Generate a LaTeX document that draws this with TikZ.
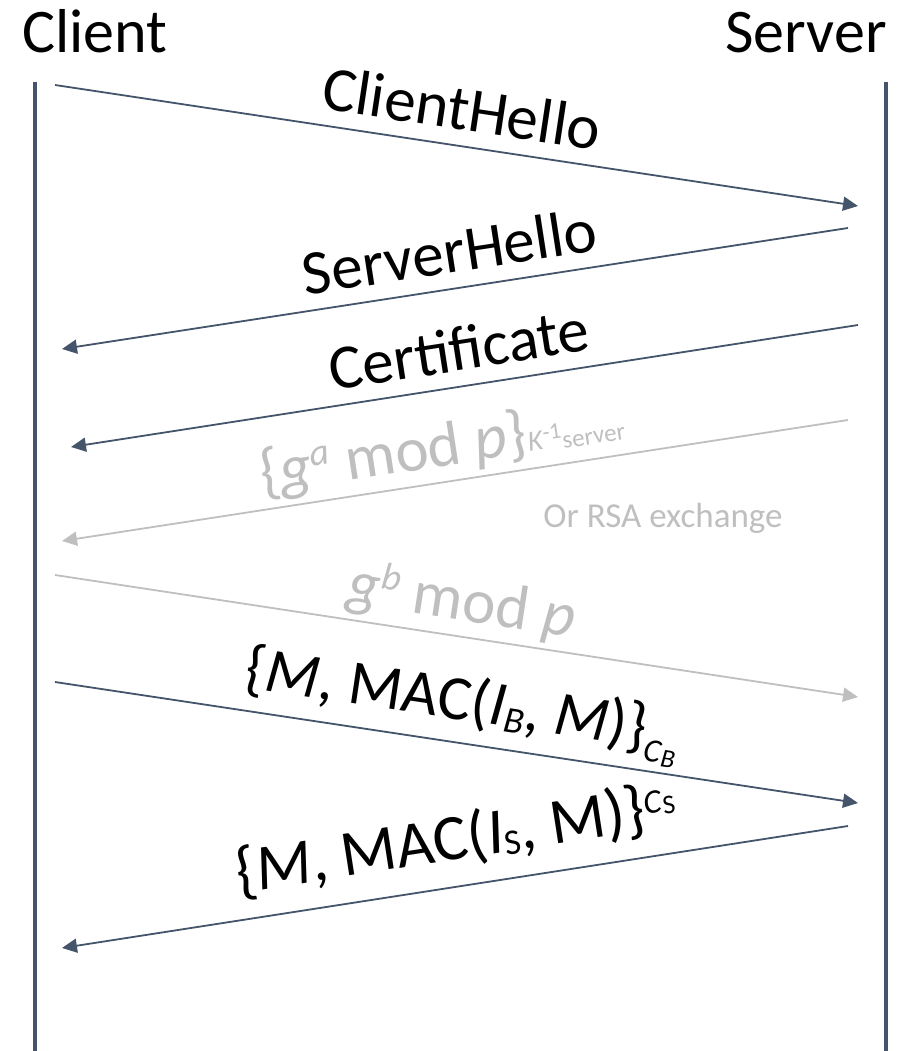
\documentclass[tikz,border=0pt]{standalone}
\usepackage{fontspec}
\setmainfont{Carlito}
\usetikzlibrary{arrows.meta}

\definecolor{lane}{HTML}{44546A}
\definecolor{faded}{HTML}{BFBFBF}

% font size in pt, and a raised piece of text at its own size
\newcommand*{\fsz}[1]{\fontsize{#1}{#1}\selectfont}
\newcommand*{\raisedtext}[3]{\raisebox{#1}{\fsz{#2}#3}}

\begin{document}
\begin{tikzpicture}
  [x=1pt,y=-1pt,every node/.style={inner sep=0pt}]
  \tikzset{lifeline/.style={draw=lane,line width=3.5pt},
           msg/.style={lane,line width=1.8pt,-{Triangle[length=15pt,width=14pt]}},
           faint/.style={msg,faded},
           lbl/.style={font=\fsz{63},text=black,sloped,anchor=base,yshift=16pt},
           title/.style={font=\fsz{62},anchor=base}}
  \useasboundingbox (0,0) rectangle (914,1051);

  \node[title] (client) at (95,53)  {Client};
  \node[title] (server) at (806,53) {Server};

  % lifelines
  \coordinate (ctop) at (35,82);   \coordinate (cbot) at (35,1051);
  \coordinate (stop) at (886,82);  \coordinate (sbot) at (886,1051);
  \draw[lifeline] (ctop) -- (cbot);
  \draw[lifeline] (stop) -- (sbot);

  % message end points
  \coordinate (c1) at (55,85);   \coordinate (s1) at (858,206);
  \coordinate (s2) at (848,228); \coordinate (c2) at (62,349);
  \coordinate (s3) at (858,325); \coordinate (c3) at (71,447);
  \coordinate (s4) at (848,420); \coordinate (c4) at (62,541);
  \coordinate (c5) at (55,575);  \coordinate (s5) at (858,697);
  \coordinate (c6) at (55,682);  \coordinate (s6) at (858,803);
  \coordinate (s7) at (848,826); \coordinate (c7) at (62,948);

  \draw[msg] (c1) -- node[lbl] (hello1) {ClientHello} (s1);
  \draw[msg] (s2) -- node[lbl] (hello2) {ServerHello} (c2);
  \draw[msg] (s3) -- node[lbl] (cert) {Certificate} (c3);
  \draw[faint] (s4) -- node[lbl,text=faded,pos=0.51] (ga)
    {\{\textit{g}\raisedtext{20pt}{38}{\textit{a}} mod \textit{p}\}%
     \raisedtext{1pt}{29}{\textit{K}\raisedtext{9pt}{23}{-1}\raisedtext{-2pt}{25}{server}}} (c4);
  \node[font=\fsz{35},text=faded,anchor=base] (rsa) at (663,527) {Or RSA exchange};
  \draw[faint] (c5) -- node[lbl,text=faded] (gb)
    {\textit{g}\raisedtext{20pt}{38}{\textit{b}} mod \textit{p}} (s5);
  \draw[msg] (c6) -- node[lbl,pos=0.5,yshift=7pt] (macb)
    {\{\textit{M}, MAC(\textit{I}\raisedtext{-5pt}{37}{\textit{B}}, \textit{M})\}%
     \raisedtext{-13pt}{33}{\textit{C}\raisedtext{-3pt}{26}{\textit{B}}}} (s6);
  \draw[msg] (s7) -- node[lbl,font=\fsz{65},pos=0.49,yshift=11pt] (macs)
    {\{\textit{M}, MAC(\textit{I}\raisedtext{-4pt}{36}{S}, M)\}%
     \raisedtext{15pt}{34}{\textit{C}\raisedtext{-2pt}{27}{S}}} (c7);
\end{tikzpicture}
\end{document}
